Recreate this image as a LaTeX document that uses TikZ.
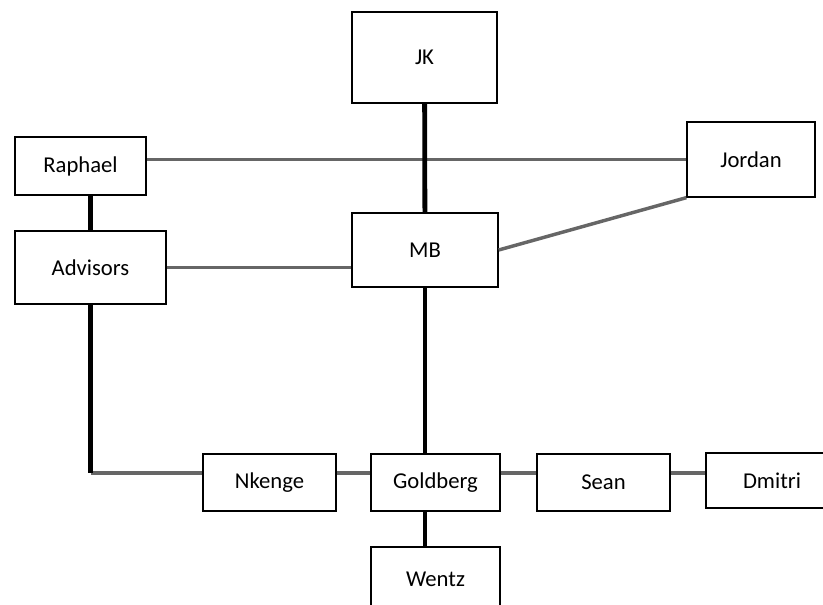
\documentclass[tikz,border=0pt]{standalone}
\usepackage{fontspec}
\setmainfont{Carlito}
\usepackage{tikz}
\usetikzlibrary{positioning,calc}

\tikzset{
  person/.style={draw, line width=1pt, inner sep=0pt, font=\fontsize{17}{20}\selectfont},
  spine/.style={line width=3.6pt, black},
  link/.style={line width=2.6pt, black!60}
}

\begin{document}
\begin{tikzpicture}[x=0.75pt, y=-0.75pt]
\useasboundingbox (0,0) rectangle (823,605);
\clip (0,0) rectangle (823,605);

\node[person, minimum width=108.75pt, minimum height=68.25pt] (jk) at (424.5,57.5) {JK};
\node[person, minimum width=109.5pt, minimum height=55.5pt] (mb) at (425,250) {MB};
\node[person, minimum width=98.25pt, minimum height=43.5pt] (raphael) at (80.5,166) {Raphael};
\node[person, minimum width=113.25pt, minimum height=54.75pt] (advisors) at (90.5,267.5) {Advisors};
\node[person, minimum width=96pt, minimum height=56.25pt] (jordan) at (751,159.5) {Jordan};
\node[person, minimum width=99.75pt, minimum height=42.75pt] (nkenge) at (269.5,482.5) {Nkenge};
\node[person, minimum width=96.75pt, minimum height=42.75pt] (goldberg) at (435.5,482.5) {Goldberg};
\node[person, minimum width=99.75pt, minimum height=42.75pt] (sean) at (603.5,482.5) {Sean};
\node[person, minimum width=99pt, minimum height=41.25pt] (dmitri) at (772,480.5) {Dmitri};
\node[person, minimum width=96.75pt, minimum height=48.75pt] (wentz) at (435.5,579.5) {Wentz};
\coordinate (turn) at (90.5,473);

\draw[link] (jordan.west) -- (jordan.west -| raphael.east);
\draw[link] (advisors.east) -- (advisors.east -| mb.west);
\draw[link] (mb.east) -- (jordan.south west);
\draw[link] (turn) -- (turn -| nkenge.west);
\draw[link] (turn -| nkenge.east) -- (turn -| goldberg.west);
\draw[link] (turn -| goldberg.east) -- (turn -| sean.west);
\draw[link] (turn -| sean.east) -- (turn -| dmitri.west);

\draw[spine] (jk) -- (mb);
\draw[spine] (advisors.north) -- (advisors.north |- raphael.south);
\draw[spine] (advisors.south) -- (turn);
\draw[spine] (mb.south) -- (mb.south |- goldberg.north);
\draw[spine] (mb.south |- goldberg.south) -- (mb.south |- wentz.north);
\end{tikzpicture}
\end{document}
